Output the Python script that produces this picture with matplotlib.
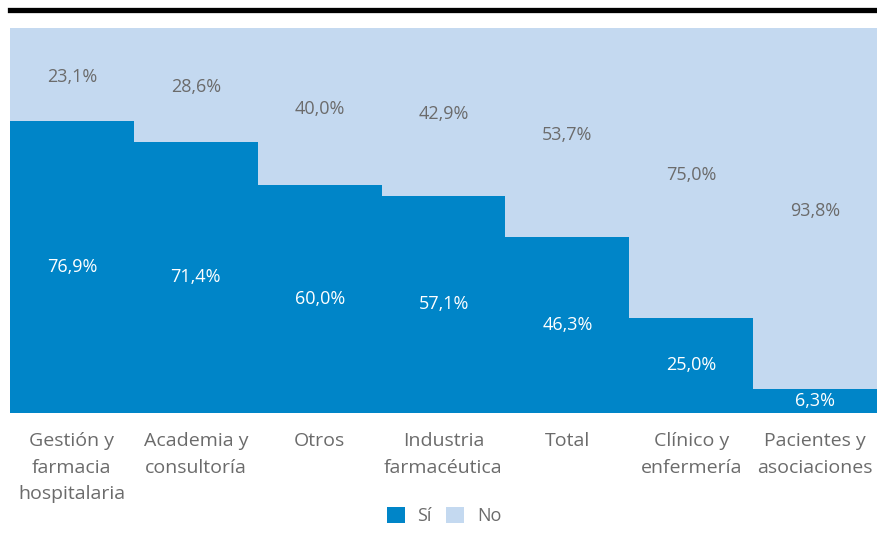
import matplotlib
matplotlib.use("Agg")
import matplotlib.pyplot as plt
from matplotlib.lines import Line2D
from matplotlib.patches import Patch

categories = ["Gestión y\nfarmacia\nhospitalaria", "Academia y\nconsultoría", "Otros",
              "Industria\nfarmacéutica", "Total", "Clínico y\nenfermería", "Pacientes y\nasociaciones"]
si = [76.9, 71.4, 60.0, 57.1, 46.3, 25.0, 6.3]
no = [23.1, 28.6, 40.0, 42.9, 53.7, 75.0, 93.8]

dark = "#0085C8"
light = "#C4D9F0"
gray = "#6B6B6B"
plt.rcParams['font.family'] = ['Open Sans', 'DejaVu Sans']

W, H = 877, 534
fig = plt.figure(figsize=(W/100, H/100), dpi=100)
ax = fig.add_axes([10/W, 1-413/H, 867/W, 385/H])
ax.set_facecolor(light)
x = list(range(len(categories)))
ax.bar(x, si, width=1.0, color=dark, linewidth=0)
ax.bar(x, no, bottom=si, width=1.0, color=light, linewidth=0)
ax.set_xlim(-0.5, len(categories)-0.5)
ax.set_ylim(0, 101.3)
for i in x:
    ax.text(i, si[i]/2, f"{si[i]:.1f}%".replace(".", ","), ha="center", va="center",
            color="white", fontsize=13)
    ax.text(i, si[i] + no[i]/2, f"{no[i]:.1f}%".replace(".", ","), ha="center", va="center",
            color=gray, fontsize=13)
for s in ax.spines.values():
    s.set_visible(False)
ax.set_yticks([])
ax.set_xticks(x)
ax.set_xticklabels(categories, fontsize=14, color=gray, linespacing=1.6, va="top")
ax.tick_params(axis="x", length=0, pad=14)

fig.add_artist(Line2D([10/W, 1], [1-9.5/H, 1-9.5/H], color="black", linewidth=3.8,
                      transform=fig.transFigure))

handles = [Patch(facecolor=dark, edgecolor="none", label="Sí"),
           Patch(facecolor=light, edgecolor="none", label="No")]
fig.legend(handles=handles, loc="center", bbox_to_anchor=(444/W, 1-516/H), ncol=2,
           frameon=False, fontsize=13, labelcolor=gray, handlelength=1.0, handleheight=1.0,
           columnspacing=0.8, handletextpad=0.7)

fig.savefig("out.png", dpi=100)
